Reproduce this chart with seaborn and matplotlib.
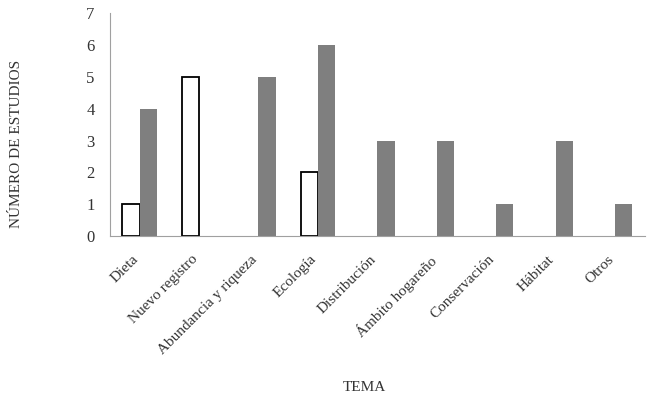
import pandas as pd
import numpy as np
import matplotlib
matplotlib.use('Agg')
import matplotlib.pyplot as plt
import matplotlib.transforms as mtransforms
import seaborn as sns

# Categories and counts
temas = ['Dieta', 'Nuevo registro', 'Abundancia y riqueza', 'Ecología',
         'Distribución', 'Ámbito hogareño', 'Conservación', 'Hábitat', 'Otros']
serie_a = [1, 5, 0, 2, 0, 0, 0, 0, 0]
serie_b = [4, 0, 5, 6, 3, 3, 1, 3, 1]
series = ['A', 'B']

df = pd.DataFrame({
    'tema': temas * 2,
    'n': serie_a + serie_b,
    'serie': [series[0]] * len(temas) + [series[1]] * len(temas),
})

sns.set_style('white')
plt.rcParams['font.family'] = ['Liberation Serif', 'DejaVu Serif']

fig = plt.figure(figsize=(6.5, 3.99), dpi=100)
ax = fig.add_axes([0.169, 0.408, 0.823, 0.559])

sns.barplot(data=df, x='tema', y='n', hue='serie', order=temas, hue_order=series,
            palette=['white', '#7f7f7f'], width=0.58, saturation=1,
            legend=False, ax=ax)

# white bars get a black outline, gray bars none
for bar in ax.containers[0]:
    if bar.get_height() > 0:
        bar.set_edgecolor('black')
        bar.set_linewidth(1.3)
    else:
        bar.set_linewidth(0)
for bar in ax.containers[1]:
    bar.set_edgecolor('none')

ax.set_ylim(0, 7)
ax.set_xlim(-0.5, len(temas) - 0.5)
ax.set_yticks(range(0, 8))

# category ticks sit between groups
ax.set_xticks(np.arange(-0.5, len(temas)), minor=True)
ax.tick_params(axis='x', which='major', length=0, pad=12)
ax.tick_params(axis='x', which='minor', length=4, width=0.8, color='#a0a0a0', direction='out')
ax.tick_params(axis='y', length=4, width=0.8, color='#a0a0a0', direction='out',
               labelsize=12, labelcolor='#333333', pad=7)
ax.set_xticklabels(temas, rotation=45, ha='right', rotation_mode='anchor',
                   fontsize=11, color='#333333')
shift = mtransforms.ScaledTranslation(-8 / 100, 0, fig.dpi_scale_trans)
for lab in ax.get_xticklabels():
    lab.set_transform(lab.get_transform() + shift)

for s in ['top', 'right']:
    ax.spines[s].set_visible(False)
for s in ['left', 'bottom']:
    ax.spines[s].set_color('#a0a0a0')
    ax.spines[s].set_linewidth(0.8)

ax.set_xlabel('')
ax.set_ylabel('')
fig.text(0.025, 0.64, 'NÚMERO DE ESTUDIOS', rotation=90, ha='center', va='center',
         fontsize=11, color='#333333')
fig.text(0.56, 0.03, 'TEMA', ha='center', va='center', fontsize=11, color='#333333')

fig.savefig('out.png', dpi=100, facecolor='white')
